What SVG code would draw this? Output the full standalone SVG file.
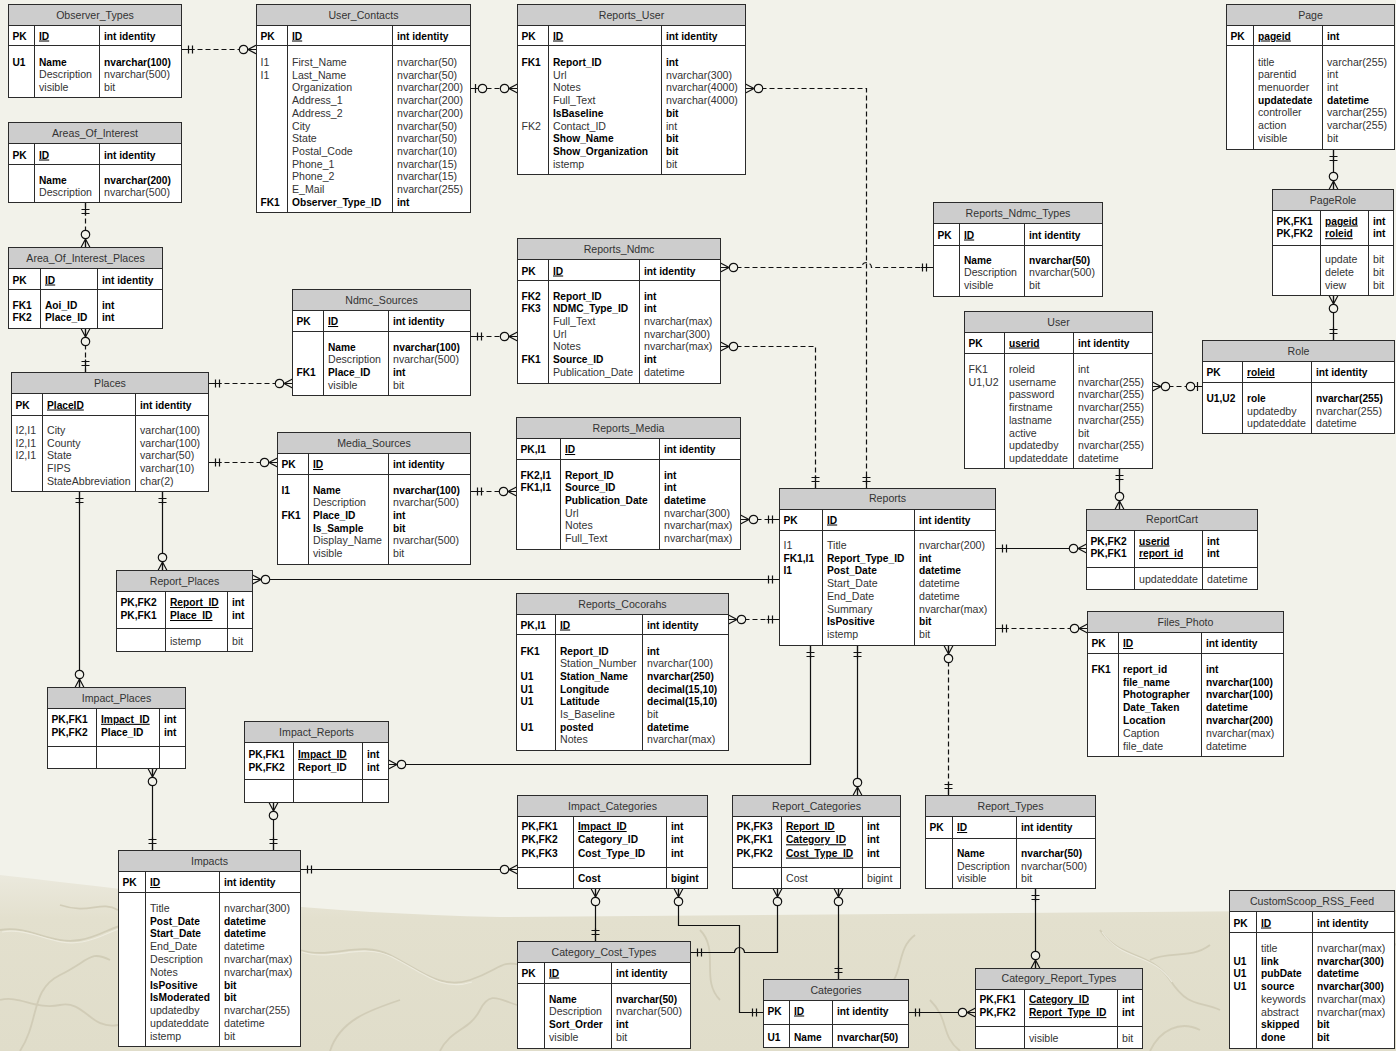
<svg xmlns="http://www.w3.org/2000/svg" width="1396" height="1051" viewBox="0 0 1396 1051">
<style>
.box{fill:#fff;stroke:#2b2b2b;stroke-width:1}
.hd{fill:#cdcdcd;stroke:#2b2b2b;stroke-width:1}
.sep{fill:none;stroke:#2b2b2b;stroke-width:1}
text{font-family:"Liberation Sans",Arial,sans-serif;font-size:10.6px}
.t{fill:#333;text-anchor:middle}
.r{fill:#333}
.b{fill:#000;font-weight:bold;font-size:10.2px}
.u{text-decoration:underline}
.c{fill:none;stroke:#111;stroke-width:1.2}
.d{stroke-dasharray:5 3}
.m{fill:none;stroke:#111;stroke-width:1.2}
.mc{fill:#f2f2ea;stroke:#111;stroke-width:1.2}
</style>
<defs>
<marker id="one" markerUnits="userSpaceOnUse" orient="auto-start-reverse" overflow="visible" refX="0" refY="0" markerWidth="1" markerHeight="1">
<path class="m" d="M-13,0H0M-7,-4V4M-11,-4V4"/>
</marker>
<marker id="zmany" markerUnits="userSpaceOnUse" orient="auto-start-reverse" overflow="visible" refX="0" refY="0" markerWidth="1" markerHeight="1">
<path class="m" d="M-8.5,0H0M0,-4.5L-8.5,0L0,4.5"/>
<circle class="mc" cx="-13" cy="0" r="4.2"/>
</marker>
<marker id="zone" markerUnits="userSpaceOnUse" orient="auto-start-reverse" overflow="visible" refX="0" refY="0" markerWidth="1" markerHeight="1">
<path class="m" d="M-8,0H0M-5,-4.5V4.5"/>
<circle class="mc" cx="-12" cy="0" r="4.2"/>
</marker>
<linearGradient id="tex" x1="0" y1="0" x2="0" y2="1">
<stop offset="0" stop-color="#ebe9dd"/>
<stop offset="0.25" stop-color="#e3e0ce"/>
<stop offset="1" stop-color="#e0ddca"/>
</linearGradient>
</defs>
<rect x="0" y="0" width="1396" height="1051" fill="#f2f2ea"/>
<path d="M0,875 C150,892 300,913 500,917 L1396,910 V1051 H0 Z" fill="url(#tex)"/>
<g fill="none" stroke="#cfcab4" stroke-width="1.8" opacity="0.85">
<path d="M0,930 C30,925 50,945 80,940 S120,915 150,930"/>
<path d="M20,1051 C40,1020 30,990 60,975 S90,950 110,960"/>
<path d="M300,950 C330,960 360,940 390,955 S440,990 470,980 S500,960 520,965"/>
<path d="M330,1051 C340,1020 370,1010 400,1000"/>
<path d="M700,930 C720,950 700,980 720,1000"/>
<path d="M915,935 C895,950 905,975 885,990"/>
<path d="M1100,930 C1120,960 1150,950 1170,980 S1200,1000 1220,1010"/>
<path d="M1150,1051 C1160,1030 1180,1020 1200,1030"/>
<path d="M1230,925 C1260,935 1300,920 1340,940 S1380,930 1396,945"/>
<path d="M60,905 C90,915 100,900 118,910"/>
<path d="M930,1000 C950,1020 940,1035 960,1051"/>
<path d="M0,1000 C20,995 35,1010 60,1005 S90,1030 118,1025"/>
<path d="M440,1051 C450,1030 470,1030 480,1010 S500,1000 517,1005"/>
<path d="M1150,960 C1170,950 1190,960 1210,945"/>
</g>
<g fill="none" stroke="#eeece0" stroke-width="1.2" opacity="0.9">
<path d="M2,932 C32,927 52,947 82,942 S122,917 152,932"/>
<path d="M302,952 C332,962 362,942 392,957 S442,992 472,982"/>
<path d="M1102,932 C1122,962 1152,952 1172,982"/>
<path d="M1232,927 C1262,937 1302,922 1342,942"/>
</g>
<g transform="translate(0.5,0.5)">
<g id="connectors">
<path class="c d" d="M181,49H256" marker-start="url(#one)" marker-end="url(#zmany)"/>
<path class="c d" d="M85,202V247" marker-start="url(#one)" marker-end="url(#zmany)"/>
<path class="c d" d="M85,328V372" marker-start="url(#zmany)" marker-end="url(#one)"/>
<path class="c d" d="M208,383H292" marker-start="url(#one)" marker-end="url(#zmany)"/>
<path class="c d" d="M208,462H277" marker-start="url(#one)" marker-end="url(#zmany)"/>
<path class="c" d="M162,491V570" marker-start="url(#one)" marker-end="url(#zmany)"/>
<path class="c" d="M79,491V687" marker-start="url(#one)" marker-end="url(#zmany)"/>
<path class="c d" d="M470,336H517" marker-start="url(#one)" marker-end="url(#zmany)"/>
<path class="c d" d="M470,491H516" marker-start="url(#one)" marker-end="url(#zmany)"/>
<path class="c d" d="M470,88H517" marker-start="url(#zone)" marker-end="url(#zmany)"/>
<path class="c d" d="M745,88H866V488" marker-start="url(#zmany)" marker-end="url(#one)"/>
<path class="c d" d="M720,267H861a5,5 0 0 1 10,0H933" marker-start="url(#zmany)" marker-end="url(#one)"/>
<path class="c d" d="M720,346H815V488" marker-start="url(#zmany)" marker-end="url(#one)"/>
<path class="c d" d="M740,519H779" marker-start="url(#zmany)" marker-end="url(#one)"/>
<path class="c d" d="M728,619H779" marker-start="url(#zmany)" marker-end="url(#one)"/>
<path class="c" d="M252,579H779" marker-start="url(#zmany)" marker-end="url(#one)"/>
<path class="c" d="M388,764H810V645" marker-start="url(#zmany)" marker-end="url(#one)"/>
<path class="c" d="M857,645V795" marker-start="url(#one)" marker-end="url(#zmany)"/>
<path class="c d" d="M948,645V795" marker-start="url(#zmany)" marker-end="url(#one)"/>
<path class="c d" d="M995,628H1087" marker-start="url(#one)" marker-end="url(#zmany)"/>
<path class="c" d="M995,548H1086" marker-start="url(#one)" marker-end="url(#zmany)"/>
<path class="c" d="M1119,468V509" marker-start="url(#one)" marker-end="url(#zmany)"/>
<path class="c d" d="M1152,386H1202" marker-start="url(#zmany)" marker-end="url(#zone)"/>
<path class="c" d="M1333,149V189" marker-start="url(#one)" marker-end="url(#zmany)"/>
<path class="c" d="M1333,340V295" marker-start="url(#one)" marker-end="url(#zmany)"/>
<path class="c" d="M152,768V850" marker-start="url(#zmany)" marker-end="url(#one)"/>
<path class="c" d="M273,802V850" marker-start="url(#zmany)" marker-end="url(#one)"/>
<path class="c" d="M300,869H517" marker-start="url(#one)" marker-end="url(#zmany)"/>
<path class="c" d="M595,888V941" marker-start="url(#zmany)" marker-end="url(#one)"/>
<path class="c" d="M678,888V925H739V1012H763" marker-start="url(#zmany)" marker-end="url(#one)"/>
<path class="c" d="M777,888V952H744a5,5 0 0 0 -10,0H690" marker-start="url(#zmany)" marker-end="url(#one)"/>
<path class="c" d="M838,888V979" marker-start="url(#zmany)" marker-end="url(#one)"/>
<path class="c" d="M908,1012H975" marker-start="url(#one)" marker-end="url(#zmany)"/>
<path class="c" d="M1035,888V968" marker-start="url(#one)" marker-end="url(#zmany)"/>
</g>

<g id="Observer_Types">
<rect class="box" x="8" y="4" width="173" height="93"/>
<rect class="hd" x="8" y="4" width="173" height="21"/>
<path class="sep" d="M8,45H181M34,25V97M99,25V97"/>
<text class="t" x="94.5" y="18">Observer_Types</text>
<text class="b" y="39"><tspan x="12">PK</tspan><tspan x="38.5" class="u">ID</tspan><tspan x="103.5">int identity</tspan></text>
<text class="b" y="65"><tspan x="12">U1</tspan><tspan x="38.5">Name</tspan><tspan x="103.5">nvarchar(100)</tspan></text>
<text class="r" y="77.7"><tspan x="38.5">Description</tspan><tspan x="103.5">nvarchar(500)</tspan></text>
<text class="r" y="90.4"><tspan x="38.5">visible</tspan><tspan x="103.5">bit</tspan></text>
</g>

<g id="Areas_Of_Interest">
<rect class="box" x="8" y="122" width="173" height="80"/>
<rect class="hd" x="8" y="122" width="173" height="21"/>
<path class="sep" d="M8,164H181M34,143V202M99,143V202"/>
<text class="t" x="94.5" y="136">Areas_Of_Interest</text>
<text class="b" y="158"><tspan x="12">PK</tspan><tspan x="38.5" class="u">ID</tspan><tspan x="103.5">int identity</tspan></text>
<text class="b" y="183"><tspan x="38.5">Name</tspan><tspan x="103.5">nvarchar(200)</tspan></text>
<text class="r" y="195.7"><tspan x="38.5">Description</tspan><tspan x="103.5">nvarchar(500)</tspan></text>
</g>

<g id="Area_Of_Interest_Places">
<rect class="box" x="8" y="247" width="154" height="81"/>
<rect class="hd" x="8" y="247" width="154" height="21"/>
<path class="sep" d="M8,289H162M40,268V328M97,268V328"/>
<text class="t" x="85" y="261">Area_Of_Interest_Places</text>
<text class="b" y="283"><tspan x="12">PK</tspan><tspan x="44.5" class="u">ID</tspan><tspan x="101.5">int identity</tspan></text>
<text class="b" y="308"><tspan x="12">FK1</tspan><tspan x="44.5">Aoi_ID</tspan><tspan x="101.5">int</tspan></text>
<text class="b" y="320.7"><tspan x="12">FK2</tspan><tspan x="44.5">Place_ID</tspan><tspan x="101.5">int</tspan></text>
</g>

<g id="User_Contacts">
<rect class="box" x="256" y="4" width="214" height="208"/>
<rect class="hd" x="256" y="4" width="214" height="21"/>
<path class="sep" d="M256,45H470M287,25V212M392,25V212"/>
<text class="t" x="363" y="18">User_Contacts</text>
<text class="b" y="39"><tspan x="260">PK</tspan><tspan x="291.5" class="u">ID</tspan><tspan x="396.5">int identity</tspan></text>
<text class="r" y="65.5"><tspan x="260">I1</tspan><tspan x="291.5">First_Name</tspan><tspan x="396.5">nvarchar(50)</tspan></text>
<text class="r" y="78.2"><tspan x="260">I1</tspan><tspan x="291.5">Last_Name</tspan><tspan x="396.5">nvarchar(50)</tspan></text>
<text class="r" y="90.9"><tspan x="291.5">Organization</tspan><tspan x="396.5">nvarchar(200)</tspan></text>
<text class="r" y="103.6"><tspan x="291.5">Address_1</tspan><tspan x="396.5">nvarchar(200)</tspan></text>
<text class="r" y="116.3"><tspan x="291.5">Address_2</tspan><tspan x="396.5">nvarchar(200)</tspan></text>
<text class="r" y="129"><tspan x="291.5">City</tspan><tspan x="396.5">nvarchar(50)</tspan></text>
<text class="r" y="141.7"><tspan x="291.5">State</tspan><tspan x="396.5">nvarchar(50)</tspan></text>
<text class="r" y="154.4"><tspan x="291.5">Postal_Code</tspan><tspan x="396.5">nvarchar(10)</tspan></text>
<text class="r" y="167.1"><tspan x="291.5">Phone_1</tspan><tspan x="396.5">nvarchar(15)</tspan></text>
<text class="r" y="179.8"><tspan x="291.5">Phone_2</tspan><tspan x="396.5">nvarchar(15)</tspan></text>
<text class="r" y="192.5"><tspan x="291.5">E_Mail</tspan><tspan x="396.5">nvarchar(255)</tspan></text>
<text class="b" y="205.2"><tspan x="260">FK1</tspan><tspan x="291.5">Observer_Type_ID</tspan><tspan x="396.5">int</tspan></text>
</g>

<g id="Reports_User">
<rect class="box" x="517" y="4" width="228" height="170"/>
<rect class="hd" x="517" y="4" width="228" height="21"/>
<path class="sep" d="M517,45H745M548,25V174M661,25V174"/>
<text class="t" x="631" y="18">Reports_User</text>
<text class="b" y="39"><tspan x="521">PK</tspan><tspan x="552.5" class="u">ID</tspan><tspan x="665.5">int identity</tspan></text>
<text class="b" y="65.5"><tspan x="521">FK1</tspan><tspan x="552.5">Report_ID</tspan><tspan x="665.5">int</tspan></text>
<text class="r" y="78.2"><tspan x="552.5">Url</tspan><tspan x="665.5">nvarchar(300)</tspan></text>
<text class="r" y="90.9"><tspan x="552.5">Notes</tspan><tspan x="665.5">nvarchar(4000)</tspan></text>
<text class="r" y="103.6"><tspan x="552.5">Full_Text</tspan><tspan x="665.5">nvarchar(4000)</tspan></text>
<text class="b" y="116.3"><tspan x="552.5">IsBaseline</tspan><tspan x="665.5">bit</tspan></text>
<text class="r" y="129"><tspan x="521">FK2</tspan><tspan x="552.5">Contact_ID</tspan><tspan x="665.5">int</tspan></text>
<text class="b" y="141.7"><tspan x="552.5">Show_Name</tspan><tspan x="665.5">bit</tspan></text>
<text class="b" y="154.4"><tspan x="552.5">Show_Organization</tspan><tspan x="665.5">bit</tspan></text>
<text class="r" y="167.1"><tspan x="552.5">istemp</tspan><tspan x="665.5">bit</tspan></text>
</g>

<g id="Page">
<rect class="box" x="1226" y="4" width="168" height="145"/>
<rect class="hd" x="1226" y="4" width="168" height="21"/>
<path class="sep" d="M1226,45H1394M1253,25V149M1322,25V149"/>
<text class="t" x="1310" y="18">Page</text>
<text class="b" y="39"><tspan x="1230">PK</tspan><tspan x="1257.5" class="u">pageid</tspan><tspan x="1326.5">int</tspan></text>
<text class="r" y="65"><tspan x="1257.5">title</tspan><tspan x="1326.5">varchar(255)</tspan></text>
<text class="r" y="77.7"><tspan x="1257.5">parentid</tspan><tspan x="1326.5">int</tspan></text>
<text class="r" y="90.4"><tspan x="1257.5">menuorder</tspan><tspan x="1326.5">int</tspan></text>
<text class="b" y="103.1"><tspan x="1257.5">updatedate</tspan><tspan x="1326.5">datetime</tspan></text>
<text class="r" y="115.8"><tspan x="1257.5">controller</tspan><tspan x="1326.5">varchar(255)</tspan></text>
<text class="r" y="128.5"><tspan x="1257.5">action</tspan><tspan x="1326.5">varchar(255)</tspan></text>
<text class="r" y="141.2"><tspan x="1257.5">visible</tspan><tspan x="1326.5">bit</tspan></text>
</g>

<g id="PageRole">
<rect class="box" x="1272" y="189" width="121" height="106"/>
<rect class="hd" x="1272" y="189" width="121" height="21"/>
<path class="sep" d="M1272,245H1393M1320,210V295M1368,210V295"/>
<text class="t" x="1332.5" y="203">PageRole</text>
<text class="b" y="224"><tspan x="1276">PK,FK1</tspan><tspan x="1324.5" class="u">pageid</tspan><tspan x="1372.5">int</tspan></text>
<text class="b" y="236.7"><tspan x="1276">PK,FK2</tspan><tspan x="1324.5" class="u">roleid</tspan><tspan x="1372.5">int</tspan></text>
<text class="r" y="262"><tspan x="1324.5">update</tspan><tspan x="1372.5">bit</tspan></text>
<text class="r" y="275"><tspan x="1324.5">delete</tspan><tspan x="1372.5">bit</tspan></text>
<text class="r" y="288"><tspan x="1324.5">view</tspan><tspan x="1372.5">bit</tspan></text>
</g>

<g id="Reports_Ndmc_Types">
<rect class="box" x="933" y="202" width="169" height="94"/>
<rect class="hd" x="933" y="202" width="169" height="21"/>
<path class="sep" d="M933,245H1102M959,223V296M1024,223V296"/>
<text class="t" x="1017.5" y="216">Reports_Ndmc_Types</text>
<text class="b" y="238"><tspan x="937">PK</tspan><tspan x="963.5" class="u">ID</tspan><tspan x="1028.5">int identity</tspan></text>
<text class="b" y="263"><tspan x="963.5">Name</tspan><tspan x="1028.5">nvarchar(50)</tspan></text>
<text class="r" y="275.7"><tspan x="963.5">Description</tspan><tspan x="1028.5">nvarchar(500)</tspan></text>
<text class="r" y="288.4"><tspan x="963.5">visible</tspan><tspan x="1028.5">bit</tspan></text>
</g>

<g id="Reports_Ndmc">
<rect class="box" x="517" y="238" width="203" height="145"/>
<rect class="hd" x="517" y="238" width="203" height="21"/>
<path class="sep" d="M517,280H720M548,259V383M639,259V383"/>
<text class="t" x="618.5" y="252">Reports_Ndmc</text>
<text class="b" y="274"><tspan x="521">PK</tspan><tspan x="552.5" class="u">ID</tspan><tspan x="643.5">int identity</tspan></text>
<text class="b" y="299"><tspan x="521">FK2</tspan><tspan x="552.5">Report_ID</tspan><tspan x="643.5">int</tspan></text>
<text class="b" y="311.7"><tspan x="521">FK3</tspan><tspan x="552.5">NDMC_Type_ID</tspan><tspan x="643.5">int</tspan></text>
<text class="r" y="324.4"><tspan x="552.5">Full_Text</tspan><tspan x="643.5">nvarchar(max)</tspan></text>
<text class="r" y="337.1"><tspan x="552.5">Url</tspan><tspan x="643.5">nvarchar(300)</tspan></text>
<text class="r" y="349.8"><tspan x="552.5">Notes</tspan><tspan x="643.5">nvarchar(max)</tspan></text>
<text class="b" y="362.5"><tspan x="521">FK1</tspan><tspan x="552.5">Source_ID</tspan><tspan x="643.5">int</tspan></text>
<text class="r" y="375.2"><tspan x="552.5">Publication_Date</tspan><tspan x="643.5">datetime</tspan></text>
</g>

<g id="Ndmc_Sources">
<rect class="box" x="292" y="289" width="178" height="106"/>
<rect class="hd" x="292" y="289" width="178" height="21"/>
<path class="sep" d="M292,331H470M323,310V395M388,310V395"/>
<text class="t" x="381" y="303">Ndmc_Sources</text>
<text class="b" y="324.5"><tspan x="296">PK</tspan><tspan x="327.5" class="u">ID</tspan><tspan x="392.5">int identity</tspan></text>
<text class="b" y="350"><tspan x="327.5">Name</tspan><tspan x="392.5">nvarchar(100)</tspan></text>
<text class="r" y="362.7"><tspan x="327.5">Description</tspan><tspan x="392.5">nvarchar(500)</tspan></text>
<text class="b" y="375.4"><tspan x="296">FK1</tspan><tspan x="327.5">Place_ID</tspan><tspan x="392.5">int</tspan></text>
<text class="r" y="388.1"><tspan x="327.5">visible</tspan><tspan x="392.5">bit</tspan></text>
</g>

<g id="User">
<rect class="box" x="964" y="311" width="188" height="157"/>
<rect class="hd" x="964" y="311" width="188" height="21"/>
<path class="sep" d="M964,353H1152M1004,332V468M1073,332V468"/>
<text class="t" x="1058" y="325">User</text>
<text class="b" y="346"><tspan x="968">PK</tspan><tspan x="1008.5" class="u">userid</tspan><tspan x="1077.5">int identity</tspan></text>
<text class="r" y="372.3"><tspan x="968">FK1</tspan><tspan x="1008.5">roleid</tspan><tspan x="1077.5">int</tspan></text>
<text class="r" y="385"><tspan x="968">U1,U2</tspan><tspan x="1008.5">username</tspan><tspan x="1077.5">nvarchar(255)</tspan></text>
<text class="r" y="397.8"><tspan x="1008.5">password</tspan><tspan x="1077.5">nvarchar(255)</tspan></text>
<text class="r" y="410.5"><tspan x="1008.5">firstname</tspan><tspan x="1077.5">nvarchar(255)</tspan></text>
<text class="r" y="423.3"><tspan x="1008.5">lastname</tspan><tspan x="1077.5">nvarchar(255)</tspan></text>
<text class="r" y="436"><tspan x="1008.5">active</tspan><tspan x="1077.5">bit</tspan></text>
<text class="r" y="448.8"><tspan x="1008.5">updatedby</tspan><tspan x="1077.5">nvarchar(255)</tspan></text>
<text class="r" y="461.5"><tspan x="1008.5">updateddate</tspan><tspan x="1077.5">datetime</tspan></text>
</g>

<g id="Role">
<rect class="box" x="1202" y="340" width="192" height="93"/>
<rect class="hd" x="1202" y="340" width="192" height="21"/>
<path class="sep" d="M1202,382H1394M1242,361V433M1311,361V433"/>
<text class="t" x="1298" y="354">Role</text>
<text class="b" y="375.5"><tspan x="1206">PK</tspan><tspan x="1246.5" class="u">roleid</tspan><tspan x="1315.5">int identity</tspan></text>
<text class="b" y="401.3"><tspan x="1206">U1,U2</tspan><tspan x="1246.5">role</tspan><tspan x="1315.5">nvarchar(255)</tspan></text>
<text class="r" y="414"><tspan x="1246.5">updatedby</tspan><tspan x="1315.5">nvarchar(255)</tspan></text>
<text class="r" y="426.7"><tspan x="1246.5">updateddate</tspan><tspan x="1315.5">datetime</tspan></text>
</g>

<g id="Places">
<rect class="box" x="11" y="372" width="197" height="119"/>
<rect class="hd" x="11" y="372" width="197" height="21"/>
<path class="sep" d="M11,415H208M42,393V491M135,393V491"/>
<text class="t" x="109.5" y="386">Places</text>
<text class="b" y="408"><tspan x="15">PK</tspan><tspan x="46.5" class="u">PlaceID</tspan><tspan x="139.5">int identity</tspan></text>
<text class="r" y="433.3"><tspan x="15">I2,I1</tspan><tspan x="46.5">City</tspan><tspan x="139.5">varchar(100)</tspan></text>
<text class="r" y="446"><tspan x="15">I2,I1</tspan><tspan x="46.5">County</tspan><tspan x="139.5">varchar(100)</tspan></text>
<text class="r" y="458.7"><tspan x="15">I2,I1</tspan><tspan x="46.5">State</tspan><tspan x="139.5">varchar(50)</tspan></text>
<text class="r" y="471.4"><tspan x="46.5">FIPS</tspan><tspan x="139.5">varchar(10)</tspan></text>
<text class="r" y="484.1"><tspan x="46.5">StateAbbreviation</tspan><tspan x="139.5">char(2)</tspan></text>
</g>

<g id="Reports_Media">
<rect class="box" x="516" y="417" width="224" height="132"/>
<rect class="hd" x="516" y="417" width="224" height="21"/>
<path class="sep" d="M516,459H740M560,438V549M659,438V549"/>
<text class="t" x="628" y="431">Reports_Media</text>
<text class="b" y="452.5"><tspan x="520">PK,I1</tspan><tspan x="564.5" class="u">ID</tspan><tspan x="663.5">int identity</tspan></text>
<text class="b" y="478"><tspan x="520">FK2,I1</tspan><tspan x="564.5">Report_ID</tspan><tspan x="663.5">int</tspan></text>
<text class="b" y="490.7"><tspan x="520">FK1,I1</tspan><tspan x="564.5">Source_ID</tspan><tspan x="663.5">int</tspan></text>
<text class="b" y="503.4"><tspan x="564.5">Publication_Date</tspan><tspan x="663.5">datetime</tspan></text>
<text class="r" y="516.1"><tspan x="564.5">Url</tspan><tspan x="663.5">nvarchar(300)</tspan></text>
<text class="r" y="528.8"><tspan x="564.5">Notes</tspan><tspan x="663.5">nvarchar(max)</tspan></text>
<text class="r" y="541.5"><tspan x="564.5">Full_Text</tspan><tspan x="663.5">nvarchar(max)</tspan></text>
</g>

<g id="Media_Sources">
<rect class="box" x="277" y="432" width="193" height="132"/>
<rect class="hd" x="277" y="432" width="193" height="21"/>
<path class="sep" d="M277,474H470M308,453V564M388,453V564"/>
<text class="t" x="373.5" y="446">Media_Sources</text>
<text class="b" y="467.5"><tspan x="281">PK</tspan><tspan x="312.5" class="u">ID</tspan><tspan x="392.5">int identity</tspan></text>
<text class="b" y="493"><tspan x="281">I1</tspan><tspan x="312.5">Name</tspan><tspan x="392.5">nvarchar(100)</tspan></text>
<text class="r" y="505.7"><tspan x="312.5">Description</tspan><tspan x="392.5">nvarchar(500)</tspan></text>
<text class="b" y="518.4"><tspan x="281">FK1</tspan><tspan x="312.5">Place_ID</tspan><tspan x="392.5">int</tspan></text>
<text class="b" y="531.1"><tspan x="312.5">Is_Sample</tspan><tspan x="392.5">bit</tspan></text>
<text class="r" y="543.8"><tspan x="312.5">Display_Name</tspan><tspan x="392.5">nvarchar(500)</tspan></text>
<text class="r" y="556.5"><tspan x="312.5">visible</tspan><tspan x="392.5">bit</tspan></text>
</g>

<g id="Reports">
<rect class="box" x="779" y="488" width="216" height="157"/>
<rect class="hd" x="779" y="488" width="216" height="21"/>
<path class="sep" d="M779,530H995M822,509V645M914,509V645"/>
<text class="t" x="887" y="501.5">Reports</text>
<text class="b" y="523"><tspan x="783">PK</tspan><tspan x="826.5" class="u">ID</tspan><tspan x="918.5">int identity</tspan></text>
<text class="r" y="548.3"><tspan x="783">I1</tspan><tspan x="826.5">Title</tspan><tspan x="918.5">nvarchar(200)</tspan></text>
<text class="b" y="561"><tspan x="783">FK1,I1</tspan><tspan x="826.5">Report_Type_ID</tspan><tspan x="918.5">int</tspan></text>
<text class="b" y="573.8"><tspan x="783">I1</tspan><tspan x="826.5">Post_Date</tspan><tspan x="918.5">datetime</tspan></text>
<text class="r" y="586.5"><tspan x="826.5">Start_Date</tspan><tspan x="918.5">datetime</tspan></text>
<text class="r" y="599.3"><tspan x="826.5">End_Date</tspan><tspan x="918.5">datetime</tspan></text>
<text class="r" y="612"><tspan x="826.5">Summary</tspan><tspan x="918.5">nvarchar(max)</tspan></text>
<text class="b" y="624.8"><tspan x="826.5">IsPositive</tspan><tspan x="918.5">bit</tspan></text>
<text class="r" y="637.5"><tspan x="826.5">istemp</tspan><tspan x="918.5">bit</tspan></text>
</g>

<g id="ReportCart">
<rect class="box" x="1086" y="509" width="171" height="80"/>
<rect class="hd" x="1086" y="509" width="171" height="21"/>
<path class="sep" d="M1086,567H1257M1134,530V589M1202,530V589"/>
<text class="t" x="1171.5" y="522.5">ReportCart</text>
<text class="b" y="544"><tspan x="1090">PK,FK2</tspan><tspan x="1138.5" class="u">userid</tspan><tspan x="1206.5">int</tspan></text>
<text class="b" y="556.5"><tspan x="1090">PK,FK1</tspan><tspan x="1138.5" class="u">report_id</tspan><tspan x="1206.5">int</tspan></text>
<text class="r" y="582.3"><tspan x="1138.5">updateddate</tspan><tspan x="1206.5">datetime</tspan></text>
</g>

<g id="Report_Places">
<rect class="box" x="116" y="570" width="136" height="81"/>
<rect class="hd" x="116" y="570" width="136" height="21"/>
<path class="sep" d="M116,628H252M165,591V651M227,591V651"/>
<text class="t" x="184" y="584">Report_Places</text>
<text class="b" y="605.5"><tspan x="120">PK,FK2</tspan><tspan x="169.5" class="u">Report_ID</tspan><tspan x="231.5">int</tspan></text>
<text class="b" y="618.5"><tspan x="120">PK,FK1</tspan><tspan x="169.5" class="u">Place_ID</tspan><tspan x="231.5">int</tspan></text>
<text class="r" y="644.5"><tspan x="169.5">istemp</tspan><tspan x="231.5">bit</tspan></text>
</g>

<g id="Reports_Cocorahs">
<rect class="box" x="516" y="593" width="212" height="157"/>
<rect class="hd" x="516" y="593" width="212" height="21"/>
<path class="sep" d="M516,634H728M555,614V750M642,614V750"/>
<text class="t" x="622" y="607">Reports_Cocorahs</text>
<text class="b" y="628"><tspan x="520">PK,I1</tspan><tspan x="559.5" class="u">ID</tspan><tspan x="646.5">int identity</tspan></text>
<text class="b" y="654"><tspan x="520">FK1</tspan><tspan x="559.5">Report_ID</tspan><tspan x="646.5">int</tspan></text>
<text class="r" y="666.7"><tspan x="559.5">Station_Number</tspan><tspan x="646.5">nvarchar(100)</tspan></text>
<text class="b" y="679.4"><tspan x="520">U1</tspan><tspan x="559.5">Station_Name</tspan><tspan x="646.5">nvarchar(250)</tspan></text>
<text class="b" y="692.1"><tspan x="520">U1</tspan><tspan x="559.5">Longitude</tspan><tspan x="646.5">decimal(15,10)</tspan></text>
<text class="b" y="704.8"><tspan x="520">U1</tspan><tspan x="559.5">Latitude</tspan><tspan x="646.5">decimal(15,10)</tspan></text>
<text class="r" y="717.5"><tspan x="559.5">Is_Baseline</tspan><tspan x="646.5">bit</tspan></text>
<text class="b" y="730.2"><tspan x="520">U1</tspan><tspan x="559.5">posted</tspan><tspan x="646.5">datetime</tspan></text>
<text class="r" y="742.9"><tspan x="559.5">Notes</tspan><tspan x="646.5">nvarchar(max)</tspan></text>
</g>

<g id="Files_Photo">
<rect class="box" x="1087" y="611" width="196" height="145"/>
<rect class="hd" x="1087" y="611" width="196" height="21"/>
<path class="sep" d="M1087,653H1283M1118,632V756M1201,632V756"/>
<text class="t" x="1185" y="625">Files_Photo</text>
<text class="b" y="646.5"><tspan x="1091">PK</tspan><tspan x="1122.5" class="u">ID</tspan><tspan x="1205.5">int identity</tspan></text>
<text class="b" y="672.3"><tspan x="1091">FK1</tspan><tspan x="1122.5">report_id</tspan><tspan x="1205.5">int</tspan></text>
<text class="b" y="685.1"><tspan x="1122.5">file_name</tspan><tspan x="1205.5">nvarchar(100)</tspan></text>
<text class="b" y="697.9"><tspan x="1122.5">Photographer</tspan><tspan x="1205.5">nvarchar(100)</tspan></text>
<text class="b" y="710.7"><tspan x="1122.5">Date_Taken</tspan><tspan x="1205.5">datetime</tspan></text>
<text class="b" y="723.5"><tspan x="1122.5">Location</tspan><tspan x="1205.5">nvarchar(200)</tspan></text>
<text class="r" y="736.3"><tspan x="1122.5">Caption</tspan><tspan x="1205.5">nvarchar(max)</tspan></text>
<text class="r" y="749.1"><tspan x="1122.5">file_date</tspan><tspan x="1205.5">datetime</tspan></text>
</g>

<g id="Impact_Places">
<rect class="box" x="47" y="687" width="138" height="81"/>
<rect class="hd" x="47" y="687" width="138" height="21"/>
<path class="sep" d="M47,746H185M96,708V768M159,708V768"/>
<text class="t" x="116" y="701">Impact_Places</text>
<text class="b" y="722.3"><tspan x="51">PK,FK1</tspan><tspan x="100.5" class="u">Impact_ID</tspan><tspan x="163.5">int</tspan></text>
<text class="b" y="735.3"><tspan x="51">PK,FK2</tspan><tspan x="100.5">Place_ID</tspan><tspan x="163.5">int</tspan></text>
</g>

<g id="Impact_Reports">
<rect class="box" x="244" y="721" width="144" height="81"/>
<rect class="hd" x="244" y="721" width="144" height="21"/>
<path class="sep" d="M244,779H388M293,742V802M362,742V802"/>
<text class="t" x="316" y="735">Impact_Reports</text>
<text class="b" y="757.3"><tspan x="248">PK,FK1</tspan><tspan x="297.5" class="u">Impact_ID</tspan><tspan x="366.5">int</tspan></text>
<text class="b" y="770"><tspan x="248">PK,FK2</tspan><tspan x="297.5">Report_ID</tspan><tspan x="366.5">int</tspan></text>
</g>

<g id="Impacts">
<rect class="box" x="118" y="850" width="182" height="196"/>
<rect class="hd" x="118" y="850" width="182" height="21"/>
<path class="sep" d="M118,892H300M145,871V1046M219,871V1046"/>
<text class="t" x="209" y="864">Impacts</text>
<text class="b" y="885.5"><tspan x="122">PK</tspan><tspan x="149.5" class="u">ID</tspan><tspan x="223.5">int identity</tspan></text>
<text class="r" y="911.3"><tspan x="149.5">Title</tspan><tspan x="223.5">nvarchar(300)</tspan></text>
<text class="b" y="924.1"><tspan x="149.5">Post_Date</tspan><tspan x="223.5">datetime</tspan></text>
<text class="b" y="936.9"><tspan x="149.5">Start_Date</tspan><tspan x="223.5">datetime</tspan></text>
<text class="r" y="949.7"><tspan x="149.5">End_Date</tspan><tspan x="223.5">datetime</tspan></text>
<text class="r" y="962.5"><tspan x="149.5">Description</tspan><tspan x="223.5">nvarchar(max)</tspan></text>
<text class="r" y="975.3"><tspan x="149.5">Notes</tspan><tspan x="223.5">nvarchar(max)</tspan></text>
<text class="b" y="988.1"><tspan x="149.5">IsPositive</tspan><tspan x="223.5">bit</tspan></text>
<text class="b" y="1000.9"><tspan x="149.5">IsModerated</tspan><tspan x="223.5">bit</tspan></text>
<text class="r" y="1013.7"><tspan x="149.5">updatedby</tspan><tspan x="223.5">nvarchar(255)</tspan></text>
<text class="r" y="1026.5"><tspan x="149.5">updateddate</tspan><tspan x="223.5">datetime</tspan></text>
<text class="r" y="1039.3"><tspan x="149.5">istemp</tspan><tspan x="223.5">bit</tspan></text>
</g>

<g id="Impact_Categories">
<rect class="box" x="517" y="795" width="190" height="93"/>
<rect class="hd" x="517" y="795" width="190" height="21"/>
<path class="sep" d="M517,867H707M573,816V888M666,816V888"/>
<text class="t" x="612" y="809">Impact_Categories</text>
<text class="b" y="829.5"><tspan x="521">PK,FK1</tspan><tspan x="577.5" class="u">Impact_ID</tspan><tspan x="670.5">int</tspan></text>
<text class="b" y="842.8"><tspan x="521">PK,FK2</tspan><tspan x="577.5">Category_ID</tspan><tspan x="670.5">int</tspan></text>
<text class="b" y="856.1"><tspan x="521">PK,FK3</tspan><tspan x="577.5">Cost_Type_ID</tspan><tspan x="670.5">int</tspan></text>
<text class="b" y="881.5"><tspan x="577.5">Cost</tspan><tspan x="670.5">bigint</tspan></text>
</g>

<g id="Report_Categories">
<rect class="box" x="732" y="795" width="168" height="93"/>
<rect class="hd" x="732" y="795" width="168" height="21"/>
<path class="sep" d="M732,867H900M781,816V888M862,816V888"/>
<text class="t" x="816" y="809">Report_Categories</text>
<text class="b" y="829.5"><tspan x="736">PK,FK3</tspan><tspan x="785.5" class="u">Report_ID</tspan><tspan x="866.5">int</tspan></text>
<text class="b" y="842.8"><tspan x="736">PK,FK1</tspan><tspan x="785.5" class="u">Category_ID</tspan><tspan x="866.5">int</tspan></text>
<text class="b" y="856.1"><tspan x="736">PK,FK2</tspan><tspan x="785.5" class="u">Cost_Type_ID</tspan><tspan x="866.5">int</tspan></text>
<text class="r" y="881.5"><tspan x="785.5">Cost</tspan><tspan x="866.5">bigint</tspan></text>
</g>

<g id="Report_Types">
<rect class="box" x="925" y="795" width="170" height="93"/>
<rect class="hd" x="925" y="795" width="170" height="21"/>
<path class="sep" d="M925,838H1095M952,816V888M1016,816V888"/>
<text class="t" x="1010" y="809">Report_Types</text>
<text class="b" y="830.5"><tspan x="929">PK</tspan><tspan x="956.5" class="u">ID</tspan><tspan x="1020.5">int identity</tspan></text>
<text class="b" y="856.3"><tspan x="956.5">Name</tspan><tspan x="1020.5">nvarchar(50)</tspan></text>
<text class="r" y="869"><tspan x="956.5">Description</tspan><tspan x="1020.5">nvarchar(500)</tspan></text>
<text class="r" y="881.7"><tspan x="956.5">visible</tspan><tspan x="1020.5">bit</tspan></text>
</g>

<g id="Category_Cost_Types">
<rect class="box" x="517" y="941" width="173" height="107"/>
<rect class="hd" x="517" y="941" width="173" height="21"/>
<path class="sep" d="M517,983H690M544,962V1048M611,962V1048"/>
<text class="t" x="603.5" y="955">Category_Cost_Types</text>
<text class="b" y="976"><tspan x="521">PK</tspan><tspan x="548.5" class="u">ID</tspan><tspan x="615.5">int identity</tspan></text>
<text class="b" y="1002"><tspan x="548.5">Name</tspan><tspan x="615.5">nvarchar(50)</tspan></text>
<text class="r" y="1014.7"><tspan x="548.5">Description</tspan><tspan x="615.5">nvarchar(500)</tspan></text>
<text class="b" y="1027.4"><tspan x="548.5">Sort_Order</tspan><tspan x="615.5">int</tspan></text>
<text class="r" y="1040.1"><tspan x="548.5">visible</tspan><tspan x="615.5">bit</tspan></text>
</g>

<g id="Categories">
<rect class="box" x="763" y="979" width="145" height="68"/>
<rect class="hd" x="763" y="979" width="145" height="21"/>
<path class="sep" d="M763,1024H908M789,1000V1047M832,1000V1047"/>
<text class="t" x="835.5" y="993">Categories</text>
<text class="b" y="1014"><tspan x="767">PK</tspan><tspan x="793.5" class="u">ID</tspan><tspan x="836.5">int identity</tspan></text>
<text class="b" y="1040"><tspan x="767">U1</tspan><tspan x="793.5">Name</tspan><tspan x="836.5">nvarchar(50)</tspan></text>
</g>

<g id="Category_Report_Types">
<rect class="box" x="975" y="968" width="167" height="80"/>
<rect class="hd" x="975" y="968" width="167" height="21"/>
<path class="sep" d="M975,1026H1142M1024,989V1048M1117,989V1048"/>
<text class="t" x="1058.5" y="981.5">Category_Report_Types</text>
<text class="b" y="1002.3"><tspan x="979">PK,FK1</tspan><tspan x="1028.5" class="u">Category_ID</tspan><tspan x="1121.5">int</tspan></text>
<text class="b" y="1015.6"><tspan x="979">PK,FK2</tspan><tspan x="1028.5" class="u">Report_Type_ID</tspan><tspan x="1121.5">int</tspan></text>
<text class="r" y="1041.3"><tspan x="1028.5">visible</tspan><tspan x="1121.5">bit</tspan></text>
</g>

<g id="CustomScoop_RSS_Feed">
<rect class="box" x="1229" y="890" width="165" height="158"/>
<rect class="hd" x="1229" y="890" width="165" height="21"/>
<path class="sep" d="M1229,932H1394M1256,911V1048M1312,911V1048"/>
<text class="t" x="1311.5" y="904">CustomScoop_RSS_Feed</text>
<text class="b" y="926"><tspan x="1233">PK</tspan><tspan x="1260.5" class="u">ID</tspan><tspan x="1316.5">int identity</tspan></text>
<text class="r" y="951.3"><tspan x="1260.5">title</tspan><tspan x="1316.5">nvarchar(max)</tspan></text>
<text class="b" y="964"><tspan x="1233">U1</tspan><tspan x="1260.5">link</tspan><tspan x="1316.5">nvarchar(300)</tspan></text>
<text class="b" y="976.8"><tspan x="1233">U1</tspan><tspan x="1260.5">pubDate</tspan><tspan x="1316.5">datetime</tspan></text>
<text class="b" y="989.5"><tspan x="1233">U1</tspan><tspan x="1260.5">source</tspan><tspan x="1316.5">nvarchar(300)</tspan></text>
<text class="r" y="1002.3"><tspan x="1260.5">keywords</tspan><tspan x="1316.5">nvarchar(max)</tspan></text>
<text class="r" y="1015"><tspan x="1260.5">abstract</tspan><tspan x="1316.5">nvarchar(max)</tspan></text>
<text class="b" y="1027.8"><tspan x="1260.5">skipped</tspan><tspan x="1316.5">bit</tspan></text>
<text class="b" y="1040.5"><tspan x="1260.5">done</tspan><tspan x="1316.5">bit</tspan></text>
</g>
</g>
</svg>
